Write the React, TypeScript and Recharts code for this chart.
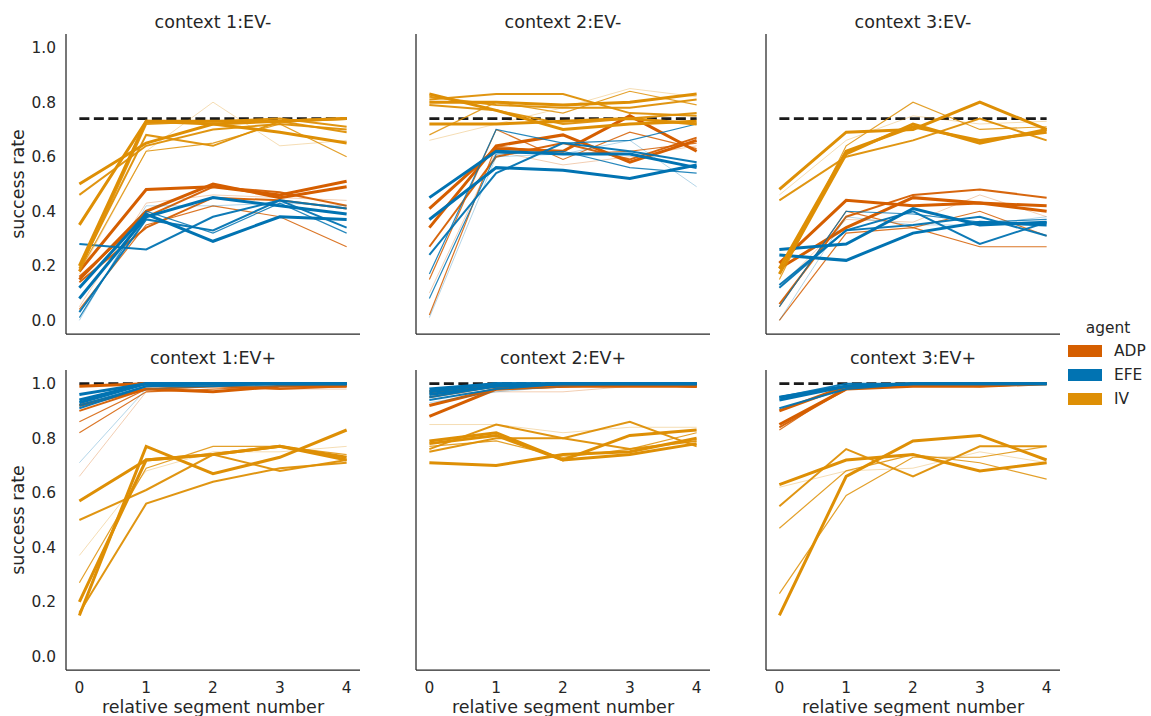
import React from 'react';
import { LineChart, Line, XAxis, YAxis } from 'recharts';

// x positions and y ticks
const segments = [0, 1, 2, 3, 4];
const yTicks = [0, 0.2, 0.4, 0.6, 0.8, 1.0];
const agents = ['ADP', 'EFE', 'IV'];

// optimal (dashed) reference
const optimalEVneg = [0.74, 0.74, 0.74, 0.74, 0.74];
const optimalEVpos = [1, 1, 1, 1, 1];

// context 1:EV-
const c1NegADP = [
  [0.18, 0.48, 0.49, 0.46, 0.51],
  [0.15, 0.40, 0.50, 0.45, 0.49],
  [0.16, 0.38, 0.49, 0.47, 0.42],
  [0.14, 0.34, 0.45, 0.44, 0.41],
  [0.04, 0.35, 0.42, 0.38, 0.27],
  [0.05, 0.43, 0.46, 0.45, 0.44],
];
const c1NegEFE = [
  [0.28, 0.26, 0.38, 0.44, 0.41],
  [0.12, 0.39, 0.29, 0.38, 0.37],
  [0.08, 0.38, 0.45, 0.42, 0.39],
  [0.03, 0.37, 0.33, 0.44, 0.34],
  [0.01, 0.40, 0.32, 0.43, 0.32],
  [0.00, 0.42, 0.42, 0.43, 0.42],
];
const c1NegIV = [
  [0.50, 0.65, 0.72, 0.73, 0.74],
  [0.46, 0.64, 0.70, 0.72, 0.70],
  [0.35, 0.73, 0.73, 0.73, 0.74],
  [0.20, 0.73, 0.72, 0.69, 0.65],
  [0.19, 0.68, 0.64, 0.73, 0.69],
  [0.18, 0.62, 0.65, 0.72, 0.60],
  [0.17, 0.62, 0.80, 0.64, 0.66],
  [0.18, 0.72, 0.73, 0.74, 0.71],
];

// context 2:EV-
const c2NegADP = [
  [0.41, 0.63, 0.62, 0.75, 0.62],
  [0.34, 0.64, 0.68, 0.58, 0.66],
  [0.27, 0.60, 0.65, 0.59, 0.67],
  [0.15, 0.70, 0.59, 0.69, 0.63],
  [0.02, 0.64, 0.61, 0.62, 0.65],
  [0.10, 0.62, 0.57, 0.60, 0.64],
];
const c2NegEFE = [
  [0.45, 0.62, 0.61, 0.61, 0.56],
  [0.37, 0.56, 0.55, 0.52, 0.57],
  [0.24, 0.54, 0.65, 0.62, 0.58],
  [0.17, 0.70, 0.65, 0.66, 0.72],
  [0.08, 0.61, 0.62, 0.56, 0.54],
  [0.01, 0.60, 0.61, 0.66, 0.49],
];
const c2NegIV = [
  [0.83, 0.77, 0.70, 0.72, 0.73],
  [0.72, 0.72, 0.73, 0.74, 0.72],
  [0.81, 0.83, 0.83, 0.76, 0.75],
  [0.80, 0.80, 0.79, 0.80, 0.83],
  [0.82, 0.79, 0.78, 0.78, 0.81],
  [0.68, 0.80, 0.76, 0.84, 0.79],
  [0.66, 0.72, 0.78, 0.85, 0.82],
  [0.79, 0.77, 0.72, 0.74, 0.76],
];

// context 3:EV-
const c3NegADP = [
  [0.21, 0.44, 0.42, 0.43, 0.42],
  [0.06, 0.38, 0.46, 0.48, 0.45],
  [0.19, 0.34, 0.45, 0.43, 0.40],
  [0.00, 0.32, 0.34, 0.27, 0.27],
  [0.12, 0.37, 0.36, 0.46, 0.38],
  [0.05, 0.40, 0.34, 0.40, 0.31],
];
const c3NegEFE = [
  [0.26, 0.28, 0.41, 0.35, 0.36],
  [0.24, 0.22, 0.32, 0.36, 0.35],
  [0.12, 0.33, 0.35, 0.38, 0.31],
  [0.05, 0.40, 0.39, 0.36, 0.37],
  [0.00, 0.38, 0.35, 0.35, 0.38],
  [0.13, 0.33, 0.40, 0.28, 0.36],
];
const c3NegIV = [
  [0.48, 0.69, 0.70, 0.80, 0.70],
  [0.44, 0.60, 0.66, 0.74, 0.66],
  [0.46, 0.66, 0.75, 0.72, 0.73],
  [0.19, 0.62, 0.71, 0.66, 0.69],
  [0.17, 0.61, 0.72, 0.65, 0.70],
  [0.15, 0.64, 0.80, 0.70, 0.71],
];

// context 1:EV+
const c1PosADP = [
  [0.99, 1.00, 1.00, 1.00, 1.00],
  [0.92, 0.98, 0.97, 0.99, 0.99],
  [0.90, 0.98, 0.99, 0.98, 0.99],
  [0.86, 0.98, 0.99, 0.99, 1.00],
  [0.82, 0.97, 0.98, 0.99, 0.99],
  [0.66, 0.97, 0.99, 0.98, 0.98],
];
const c1PosEFE = [
  [0.96, 1.00, 1.00, 1.00, 1.00],
  [0.94, 1.00, 1.00, 1.00, 1.00],
  [0.93, 1.00, 1.00, 1.00, 1.00],
  [0.92, 0.99, 1.00, 1.00, 1.00],
  [0.91, 0.99, 0.99, 1.00, 1.00],
  [0.71, 0.98, 0.99, 0.99, 1.00],
];
const c1PosIV = [
  [0.57, 0.72, 0.74, 0.77, 0.72],
  [0.50, 0.61, 0.74, 0.68, 0.72],
  [0.15, 0.77, 0.67, 0.73, 0.83],
  [0.20, 0.72, 0.74, 0.77, 0.73],
  [0.27, 0.69, 0.77, 0.77, 0.74],
  [0.16, 0.56, 0.64, 0.69, 0.71],
  [0.37, 0.68, 0.75, 0.75, 0.77],
];

// context 2:EV+
const c2PosADP = [
  [0.97, 0.99, 1.00, 1.00, 0.99],
  [0.92, 0.98, 0.99, 1.00, 0.99],
  [0.88, 0.98, 0.99, 0.99, 0.99],
  [0.95, 0.99, 0.99, 1.00, 0.99],
  [0.96, 0.97, 0.97, 0.99, 0.99],
];
const c2PosEFE = [
  [0.98, 1.00, 1.00, 1.00, 1.00],
  [0.97, 1.00, 1.00, 1.00, 1.00],
  [0.96, 0.99, 1.00, 1.00, 1.00],
  [0.95, 0.99, 1.00, 1.00, 1.00],
  [0.94, 0.98, 1.00, 1.00, 1.00],
  [0.93, 0.97, 0.99, 1.00, 1.00],
];
const c2PosIV = [
  [0.79, 0.82, 0.72, 0.81, 0.83],
  [0.71, 0.70, 0.74, 0.75, 0.80],
  [0.76, 0.85, 0.80, 0.76, 0.79],
  [0.75, 0.80, 0.80, 0.86, 0.77],
  [0.78, 0.81, 0.72, 0.74, 0.78],
  [0.85, 0.85, 0.82, 0.84, 0.84],
  [0.77, 0.79, 0.73, 0.76, 0.82],
];

// context 3:EV+
const c3PosADP = [
  [0.90, 0.99, 1.00, 1.00, 1.00],
  [0.85, 0.98, 0.99, 0.99, 1.00],
  [0.84, 0.98, 1.00, 0.99, 1.00],
  [0.83, 0.99, 1.00, 1.00, 1.00],
];
const c3PosEFE = [
  [0.95, 0.99, 1.00, 1.00, 1.00],
  [0.94, 0.99, 1.00, 1.00, 1.00],
  [0.91, 0.98, 1.00, 1.00, 1.00],
  [0.95, 1.00, 1.00, 1.00, 1.00],
];
const c3PosIV = [
  [0.63, 0.72, 0.74, 0.68, 0.71],
  [0.55, 0.76, 0.66, 0.77, 0.77],
  [0.47, 0.68, 0.74, 0.71, 0.65],
  [0.23, 0.59, 0.73, 0.73, 0.77],
  [0.15, 0.66, 0.79, 0.81, 0.72],
  [0.62, 0.68, 0.69, 0.75, 0.71],
];

// line weight per line (styles, kept apart from values)
const c1NegStyle = {
  ADP: ['thick', 'thick', 'mid', 'mid', 'thin', 'faint'],
  EFE: ['mid', 'thick', 'thick', 'mid', 'thin', 'faint'],
  IV: ['thick', 'mid', 'thick', 'thick', 'mid', 'thin', 'faint', 'mid'],
};
const c2NegStyle = {
  ADP: ['thick', 'thick', 'mid', 'thin', 'thin', 'faint'],
  EFE: ['thick', 'thick', 'mid', 'thin', 'thin', 'faint'],
  IV: ['thick', 'thick', 'mid', 'thick', 'mid', 'thin', 'faint', 'mid'],
};
const c3NegStyle = {
  ADP: ['thick', 'mid', 'thick', 'thin', 'faint', 'thin'],
  EFE: ['thick', 'thick', 'mid', 'thin', 'faint', 'mid'],
  IV: ['thick', 'mid', 'faint', 'thick', 'thick', 'thin'],
};
const c1PosStyle = {
  ADP: ['thick', 'thick', 'mid', 'thin', 'thin', 'faint'],
  EFE: ['thick', 'thick', 'thick', 'mid', 'mid', 'faint'],
  IV: ['thick', 'mid', 'thick', 'thick', 'thin', 'mid', 'faint'],
};
const c2PosStyle = {
  ADP: ['thick', 'thick', 'thick', 'mid', 'faint'],
  EFE: ['thick', 'thick', 'thick', 'mid', 'mid', 'faint'],
  IV: ['thick', 'thick', 'mid', 'mid', 'thick', 'faint', 'thin'],
};
const c3PosStyle = {
  ADP: ['thick', 'thick', 'mid', 'thin'],
  EFE: ['thick', 'thick', 'mid', 'mid'],
  IV: ['thick', 'mid', 'thin', 'thin', 'thick', 'faint'],
};

const colors: Record<string, string> = { ADP: '#d55e00', EFE: '#0173b2', IV: '#de8f05' };
const weights: Record<string, { w: number; o: number }> = {
  thick: { w: 3, o: 1 },
  mid: { w: 2, o: 0.95 },
  thin: { w: 1.2, o: 0.85 },
  faint: { w: 1.0, o: 0.3 },
};

const INK = '#262626';
const FONT = 'DejaVu Sans, sans-serif';
const PLOT_W = 294;
const PLOT_H = 300;
const Y_W = 66;
const LABEL_SIZE = 17.5;
const TICK_SIZE = 15.4;

function Panel({ title, plotLeft, plotTop, bottomRow, showY, values, styles, optimal }: any) {
  const data = segments.map((s, i) => {
    const row: any = { seg: s, opt: optimal[i] };
    agents.forEach((a) => values[a].forEach((v: number[], j: number) => { row[`${a}${j}`] = v[i]; }));
    return row;
  });
  const xH = bottomRow ? 46 : 2;
  const tickStyle = { fill: INK, fontSize: TICK_SIZE, fontFamily: FONT };
  return (
    <>
      <div style={{
        position: 'absolute', left: plotLeft, top: plotTop - 22, width: PLOT_W, height: 20,
        lineHeight: '20px', textAlign: 'center', fontSize: LABEL_SIZE, color: INK, fontFamily: FONT,
      }}>{title}</div>
      <div style={{ position: 'absolute', left: plotLeft - Y_W, top: plotTop }}>
        <LineChart width={Y_W + PLOT_W} height={PLOT_H + xH} data={data}
          margin={{ top: 0, right: 0, bottom: 0, left: 0 }}>
          <XAxis dataKey="seg" type="number" domain={[-0.2, 4.2]} ticks={segments}
            allowDataOverflow height={xH} tickLine={false} tickSize={0} tickMargin={12}
            tick={bottomRow ? tickStyle : false}
            axisLine={{ stroke: INK, strokeWidth: 1.25 }} />
          <YAxis type="number" domain={[-0.05, 1.05]} ticks={yTicks} allowDataOverflow
            width={Y_W} tickLine={false} tickSize={0} tickMargin={10}
            tick={showY ? tickStyle : false} tickFormatter={(v: number) => v.toFixed(1)}
            axisLine={{ stroke: INK, strokeWidth: 1.25 }} />
          <Line dataKey="opt" type="linear" stroke="#1a1a1a" strokeWidth={2.8}
            strokeDasharray="10 4.5" dot={false} isAnimationActive={false} />
          {agents.flatMap((a) => values[a].map((_: number[], j: number) => {
            const st = weights[styles[a][j]];
            return (
              <Line key={`${a}${j}`} dataKey={`${a}${j}`} type="linear" stroke={colors[a]}
                strokeWidth={st.w} strokeOpacity={st.o} dot={false} isAnimationActive={false} />
            );
          }))}
        </LineChart>
      </div>
      {bottomRow && (
        <div style={{
          position: 'absolute', left: plotLeft - 20, top: 697, width: PLOT_W + 40, height: 20,
          lineHeight: '20px', textAlign: 'center', fontSize: LABEL_SIZE, color: INK, fontFamily: FONT,
        }}>relative segment number</div>
      )}
      {showY && (
        <div style={{
          position: 'absolute', left: 18 - 60, top: plotTop + PLOT_H / 2 - 10, width: 120, height: 20,
          lineHeight: '20px', textAlign: 'center', fontSize: LABEL_SIZE, color: INK, fontFamily: FONT,
          transform: 'rotate(-90deg)',
        }}>success rate</div>
      )}
    </>
  );
}

const panels = [
  { title: 'context 1:EV-', plotLeft: 66, plotTop: 33.5, bottomRow: false, showY: true,
    values: { ADP: c1NegADP, EFE: c1NegEFE, IV: c1NegIV }, styles: c1NegStyle, optimal: optimalEVneg },
  { title: 'context 2:EV-', plotLeft: 416, plotTop: 33.5, bottomRow: false, showY: false,
    values: { ADP: c2NegADP, EFE: c2NegEFE, IV: c2NegIV }, styles: c2NegStyle, optimal: optimalEVneg },
  { title: 'context 3:EV-', plotLeft: 766, plotTop: 33.5, bottomRow: false, showY: false,
    values: { ADP: c3NegADP, EFE: c3NegEFE, IV: c3NegIV }, styles: c3NegStyle, optimal: optimalEVneg },
  { title: 'context 1:EV+', plotLeft: 66, plotTop: 369.5, bottomRow: true, showY: true,
    values: { ADP: c1PosADP, EFE: c1PosEFE, IV: c1PosIV }, styles: c1PosStyle, optimal: optimalEVpos },
  { title: 'context 2:EV+', plotLeft: 416, plotTop: 369.5, bottomRow: true, showY: false,
    values: { ADP: c2PosADP, EFE: c2PosEFE, IV: c2PosIV }, styles: c2PosStyle, optimal: optimalEVpos },
  { title: 'context 3:EV+', plotLeft: 766, plotTop: 369.5, bottomRow: true, showY: false,
    values: { ADP: c3PosADP, EFE: c3PosEFE, IV: c3PosIV }, styles: c3PosStyle, optimal: optimalEVpos },
];

export default function App() {
  return (
    <div style={{ position: 'absolute', left: 0, top: 0, width: 1151, height: 716, background: '#fff', fontFamily: FONT }}>
      {panels.map((p) => <Panel key={p.title} {...p} />)}
      <div style={{ position: 'absolute', left: 1058, top: 318, width: 100, height: 20, lineHeight: '20px',
        textAlign: 'center', fontSize: TICK_SIZE, color: INK }}>agent</div>
      {agents.map((a, i) => (
        <div key={a} style={{ position: 'absolute', left: 1068, top: 341 + i * 24, height: 20, display: 'flex', alignItems: 'center' }}>
          <div style={{ width: 34, height: 12, background: colors[a] }} />
          <div style={{ marginLeft: 12, fontSize: TICK_SIZE, color: INK, lineHeight: '20px' }}>{a}</div>
        </div>
      ))}
    </div>
  );
}
